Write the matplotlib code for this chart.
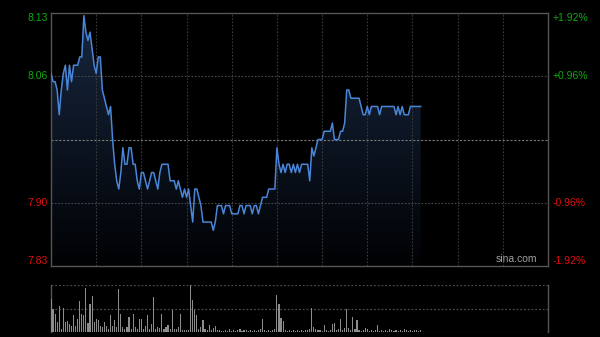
import numpy as np
import matplotlib
matplotlib.use("Agg")
import matplotlib.pyplot as plt
from matplotlib.colors import LinearSegmentedColormap

# ──────────────────────────────────────────────
# DATA (one value per trading minute)
# ──────────────────────────────────────────────
pre_close = 7.98
pct_ticks = [1.92, 0.96, -0.96, -1.92]

prices = [
    8.06, 8.05, 8.05, 8.04, 8.01, 8.04, 8.06, 8.07, 8.04, 8.07,
    8.05, 8.07, 8.07, 8.07, 8.08, 8.08, 8.13, 8.11, 8.10, 8.11,
    8.09, 8.07, 8.06, 8.08, 8.08, 8.04, 8.03, 8.02, 8.01, 8.02,
    7.98, 7.95, 7.93, 7.92, 7.94, 7.97, 7.95, 7.95, 7.97, 7.97,
    7.95, 7.95, 7.93, 7.92, 7.94, 7.94, 7.93, 7.92, 7.93, 7.94,
    7.94, 7.93, 7.92, 7.94, 7.95, 7.95, 7.95, 7.95, 7.93, 7.93,
    7.93, 7.92, 7.93, 7.92, 7.91, 7.92, 7.91, 7.92, 7.90, 7.88,
    7.92, 7.92, 7.91, 7.90, 7.88, 7.88, 7.88, 7.88, 7.88, 7.87,
    7.88, 7.90, 7.90, 7.90, 7.89, 7.90, 7.90, 7.90, 7.89, 7.89,
    7.89, 7.89, 7.90, 7.90, 7.89, 7.90, 7.90, 7.90, 7.89, 7.90,
    7.90, 7.89, 7.90, 7.91, 7.91, 7.91, 7.92, 7.92, 7.92, 7.92,
    7.97, 7.95, 7.94, 7.95, 7.94, 7.95, 7.95, 7.94, 7.95, 7.94,
    7.95, 7.94, 7.95, 7.95, 7.95, 7.95, 7.93, 7.97, 7.96, 7.97,
    7.98, 7.98, 7.98, 7.99, 7.99, 7.99, 7.99, 8.00, 7.98, 7.98,
    7.98, 7.99, 7.99, 8.00, 8.04, 8.04, 8.03, 8.03, 8.03, 8.03,
    8.03, 8.02, 8.01, 8.01, 8.02, 8.01, 8.02, 8.02, 8.02, 8.02,
    8.01, 8.02, 8.02, 8.02, 8.02, 8.02, 8.02, 8.02, 8.01, 8.02,
    8.01, 8.02, 8.01, 8.01, 8.01, 8.02, 8.02, 8.02, 8.02, 8.02,
    8.02,
]

volumes = [
    33, 23, 18, 10, 26, 3, 24, 10, 11, 8,
    6, 17, 6, 13, 31, 18, 17, 44, 9, 28,
    36, 10, 13, 12, 6, 5, 10, 6, 3, 17,
    6, 12, 5, 43, 18, 5, 3, 5, 15, 3,
    18, 5, 3, 13, 13, 3, 6, 17, 3, 8,
    35, 3, 5, 4, 18, 3, 5, 7, 3, 22,
    3, 3, 5, 18, 2, 2, 2, 2, 47, 32,
    22, 17, 3, 5, 12, 3, 2, 7, 2, 4,
    6, 2, 2, 1, 1, 2, 1, 3, 1, 2,
    1, 2, 3, 1, 2, 2, 1, 2, 1, 2,
    1, 2, 3, 13, 2, 1, 2, 1, 2, 3,
    37, 28, 14, 11, 2, 1, 2, 1, 2, 1,
    2, 1, 2, 1, 2, 2, 3, 24, 5, 3,
    2, 2, 1, 7, 2, 1, 2, 8, 9, 2,
    3, 13, 2, 4, 23, 4, 2, 15, 3, 12,
    2, 1, 2, 4, 3, 1, 2, 1, 2, 7,
    1, 2, 1, 2, 1, 3, 2, 1, 2, 1,
    2, 1, 3, 2, 1, 2, 1, 2, 2, 1,
    2,
]

minutes = np.arange(len(prices))
n_slots = 242          # full session width
n_cols = 11            # vertical grid divisions

# ──────────────────────────────────────────────
# STYLE
# ──────────────────────────────────────────────
plt.rcParams["font.family"] = ["Liberation Sans", "DejaVu Sans"]
BG = "#000000"
FRAME = "#555555"
GRID = "#3a3a3a"
UP = "#10a810"
DOWN = "#e01010"
LINE = "#4a86d8"

fig = plt.figure(figsize=(6, 3.37), dpi=100, facecolor=BG)
ax = fig.add_axes([51 / 600, 1 - 266 / 337, 497 / 600, 253 / 337])
axv = fig.add_axes([51 / 600, 1 - 332 / 337, 497 / 600, 47 / 337])

span = pre_close * pct_ticks[0] / 100
y_lo, y_hi = pre_close - span, pre_close + span

# ──────────────────────────────────────────────
# PRICE PANEL
# ──────────────────────────────────────────────
ax.set_facecolor(BG)
ax.set_xlim(0, n_slots)
ax.set_ylim(y_lo, y_hi)

# gradient fill under the line
cmap = LinearSegmentedColormap.from_list("fill", ["#010204", "#172740"])
grad = np.linspace(0, 1, 256).reshape(-1, 1)
img = ax.imshow(grad, cmap=cmap, origin="lower", aspect="auto",
                extent=[0, n_slots, y_lo, y_hi], zorder=1)
poly = ax.fill_between(minutes, prices, y_lo, color="none", lw=0)
img.set_clip_path(poly.get_paths()[0], transform=ax.transData)

ax.plot(minutes, prices, color=LINE, lw=1.1, zorder=3)

for k in range(1, n_cols):
    ax.axvline(k * n_slots / n_cols, color=GRID, lw=0.8, ls=(0, (1.5, 1.5)), zorder=2)
for p in pct_ticks[1:3]:
    ax.axhline(pre_close * (1 + p / 100), color="#4a4a4a", lw=0.8,
               ls=(0, (1.5, 1.5)), zorder=2)
ax.axhline(pre_close, color="#7a7a7a", lw=0.8, ls=(0, (2, 1.5)), zorder=2)

for s in ax.spines.values():
    s.set_color(FRAME)
    s.set_linewidth(1)
ax.set_xticks([])
ax.set_yticks([])

# price / percent labels on both sides
for p in pct_ticks:
    val = pre_close * (1 + p / 100)
    col = UP if p > 0 else DOWN
    va = "center"
    if p == pct_ticks[0]:
        va = "top"
    elif p == pct_ticks[-1]:
        va = "bottom"
    ax.text(-0.006, val, f"{val:.2f}", transform=ax.get_yaxis_transform(),
            ha="right", va=va, color=col, fontsize=7.5)
    ax.text(1.01, val, f"{p:+.2f}%", transform=ax.get_yaxis_transform(),
            ha="left", va=va, color=col, fontsize=7.5)

ax.text(0.978, 0.008, "sina.com", transform=ax.transAxes, ha="right", va="bottom",
        color="#a0a0a0", fontsize=7.5)

# ──────────────────────────────────────────────
# VOLUME PANEL
# ──────────────────────────────────────────────
axv.set_facecolor(BG)
axv.set_xlim(0, n_slots)
vmax = max(volumes) * 1.01
axv.set_ylim(0, vmax)
axv.bar(minutes, volumes, width=0.55, color="#8c8c8c", lw=0, zorder=3)
for yy in (0, vmax / 2, vmax):
    axv.axhline(yy, color="#4a4a4a", lw=0.9, ls=(0, (1.5, 1.5)), zorder=2)
axv.spines["top"].set_visible(False)
axv.spines["bottom"].set_visible(False)
for side in ("left", "right"):
    axv.spines[side].set_color(FRAME)
    axv.spines[side].set_linewidth(1)
axv.set_xticks([])
axv.set_yticks([])

fig.savefig("out.png", dpi=100, facecolor=BG)
